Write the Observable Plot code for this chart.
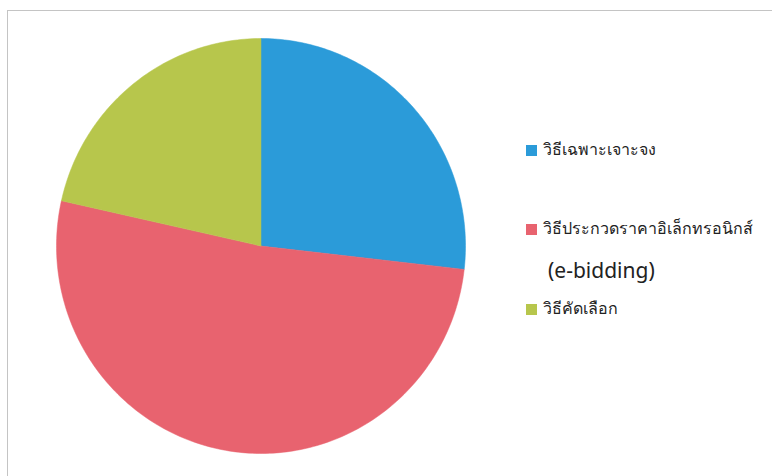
<!DOCTYPE html>
<html>
<head>
<meta charset="utf-8">
<script src="https://cdn.jsdelivr.net/npm/d3@7"></script>
<script src="https://cdn.jsdelivr.net/npm/@observablehq/plot@0.6"></script>
<style>
  html, body { margin: 0; padding: 0; background: #fff; }
  #wrap { position: relative; width: 772px; height: 476px; overflow: hidden; }
  #frame { position: absolute; left: 7px; top: 10px; width: 800px; height: 500px; border: 1px solid #c4c4c4; box-sizing: border-box; }
  #chart { position: absolute; left: 0; top: 0; }
  #legend { position: absolute; left: 526px; top: 0; font-family: "Noto Sans", "DejaVu Sans", sans-serif; color: #222; }
  .item { position: absolute; left: 0; white-space: nowrap; font-size: 16px; }
  .sw { display: inline-block; width: 11px; height: 11px; margin-right: 6px; vertical-align: -1px; }
</style>
</head>
<body>
<div id="wrap">
  <div id="frame"></div>
  <div id="chart"></div>
  <div id="legend"></div>
</div>
<script>
const categories = ["วิธีเฉพาะเจาะจง", "วิธีประกวดราคาอิเล็กทรอนิกส์ (e-bidding)", "วิธีคัดเลือก"];
const values = [26.8, 51.7, 21.5];
const colors = ["#2b9bd9", "#e8636f", "#b7c64c"];

const pie = d3.pie().sort(null).value(d => d.value)(categories.map((c, i) => ({category: c, value: values[i]})));
const pts = [];
for (const a of pie) {
  pts.push({category: a.data.category, x: 0, y: 0});
  const n = Math.max(4, Math.ceil((a.endAngle - a.startAngle) * 60));
  for (let k = 0; k <= n; k++) {
    const t = a.startAngle + (a.endAngle - a.startAngle) * k / n;
    pts.push({category: a.data.category, x: Math.sin(t), y: Math.cos(t)});
  }
  pts.push({category: a.data.category, x: 0, y: 0});
}

const plot = Plot.plot({
  width: 772,
  height: 476,
  margin: 0,
  x: {domain: [-1, 1], range: [56, 465], axis: null},
  y: {domain: [-1, 1], range: [453, 38], axis: null},
  color: {domain: categories, range: colors},
  marks: [
    Plot.line(pts, {x: "x", y: "y", z: "category", fill: "category", stroke: "category", strokeWidth: 0.5, curve: "linear-closed"})
  ]
});
plot.style.background = "transparent";
document.getElementById("chart").appendChild(plot);

const legendLines = [
  {i: 0, top: 137, text: "วิธีเฉพาะเจาะจง", sw: true},
  {i: 1, top: 216, text: "วิธีประกวดราคาอิเล็กทรอนิกส์", sw: true},
  {i: 1, top: 256, text: "(e-bidding)", sw: false},
  {i: 2, top: 296, text: "วิธีคัดเลือก", sw: true}
];
const leg = document.getElementById("legend");
for (const l of legendLines) {
  const d = document.createElement("div");
  d.className = "item";
  d.style.top = l.top + "px";
  if (l.sw) {
    const s = document.createElement("span");
    s.className = "sw";
    s.style.background = colors[l.i];
    d.appendChild(s);
  } else {
    d.style.left = "22px";
    d.style.fontSize = "21px";
  }
  d.appendChild(document.createTextNode(l.text));
  leg.appendChild(d);
}
</script>
</body>
</html>
